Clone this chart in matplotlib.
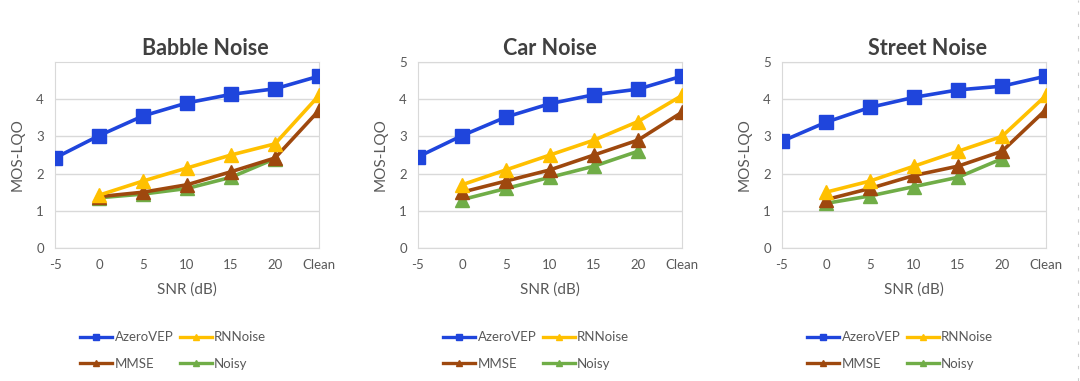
import matplotlib.pyplot as plt
from matplotlib.lines import Line2D

plt.rcParams['font.family'] = ['Lato', 'DejaVu Sans']

snr_labels = ["-5", "0", "5", "10", "15", "20", "Clean"]
titles = ["Babble Noise", "Car Noise", "Street Noise"]

# MOS-LQO values per noise type (None = no point)
azero = [
    [2.42, 3.02, 3.55, 3.90, 4.13, 4.28, 4.62],
    [2.45, 3.02, 3.52, 3.88, 4.12, 4.27, 4.62],
    [2.87, 3.38, 3.78, 4.05, 4.25, 4.35, 4.62],
]
rnnoise = [
    [None, 1.42, 1.80, 2.15, 2.50, 2.80, 4.10],
    [None, 1.70, 2.10, 2.50, 2.90, 3.40, 4.10],
    [None, 1.50, 1.80, 2.20, 2.60, 3.00, 4.10],
]
mmse = [
    [None, 1.38, 1.50, 1.70, 2.05, 2.42, 3.70],
    [None, 1.50, 1.80, 2.10, 2.50, 2.90, 3.65],
    [None, 1.30, 1.60, 1.95, 2.20, 2.60, 3.72],
]
noisy = [
    [None, 1.35, 1.45, 1.60, 1.90, 2.40, None],
    [None, 1.30, 1.60, 1.90, 2.20, 2.60, None],
    [None, 1.20, 1.40, 1.65, 1.90, 2.40, None],
]

c_blue = "#1f45dc"
c_yellow = "#ffc000"
c_brown = "#9e480e"
c_green = "#70ad47"
txt = "#595959"

fig = plt.figure(figsize=(10.8, 3.81), dpi=100)

lefts = [55, 418, 782]
title_x = [0.568, 0.5, 0.553]
x = list(range(len(snr_labels)))

def clean(vals):
    return [v if v is not None else float("nan") for v in vals]

for i in range(3):
    ax = fig.add_axes([lefts[i] / 1080, 1 - 248 / 381, 264 / 1080, 186 / 381])
    ax.plot(x, clean(noisy[i]), color=c_green, lw=2.6, marker="^", ms=10, zorder=3)
    ax.plot(x, clean(mmse[i]), color=c_brown, lw=2.6, marker="^", ms=10, zorder=4)
    ax.plot(x, clean(rnnoise[i]), color=c_yellow, lw=2.6, marker="^", ms=10, zorder=5)
    ax.plot(x, clean(azero[i]), color=c_blue, lw=2.6, marker="s", ms=9.5, zorder=6)

    ax.set_xlim(0, 6)
    ax.set_ylim(0, 5)
    ax.set_xticks(x)
    ax.set_xticklabels(snr_labels)
    if i == 0:
        ax.set_yticks([0, 1, 2, 3, 4])
    else:
        ax.set_yticks([0, 1, 2, 3, 4, 5])
    ax.grid(axis="y", color="#d9d9d9", lw=1)
    ax.set_axisbelow(True)
    for s in ax.spines.values():
        s.set_color("#d9d9d9")
    ax.tick_params(length=0, colors=txt, labelsize=9.5, pad=8)
    ax.set_title(titles[i], fontsize=15.5, fontweight="bold", color="#404040",
                 pad=5, x=title_x[i])
    ax.set_ylabel("MOS-LQO", fontsize=11, color=txt, labelpad=8)
    ax.set_xlabel("SNR (dB)", fontsize=11, color=txt, labelpad=8)

    handles = [
        Line2D([], [], color=c_blue, lw=2.4, marker="s", ms=5),
        Line2D([], [], color=c_brown, lw=2.4, marker="^", ms=5),
        Line2D([], [], color=c_yellow, lw=2.4, marker="^", ms=5),
        Line2D([], [], color=c_green, lw=2.4, marker="^", ms=5),
    ]
    labels = ["AzeroVEP", "MMSE", "RNNoise", "Noisy"]
    leg = fig.legend(handles, labels, ncol=2, frameon=False,
                     loc="upper left",
                     bbox_to_anchor=((lefts[i] + 20) / 1080, 1 - 326 / 381),
                     fontsize=9.5, handlelength=2.4, handletextpad=0.2,
                     columnspacing=0.5, labelspacing=1.1, borderaxespad=0)
    for t in leg.get_texts():
        t.set_color(txt)

# faint dashed edge on the right
fig.add_artist(Line2D([1078 / 1080, 1078 / 1080], [0, 1], color="#cccccc",
                      lw=0.8, ls=(0, (3, 8))))

fig.savefig("out.png", dpi=100, facecolor="white")
